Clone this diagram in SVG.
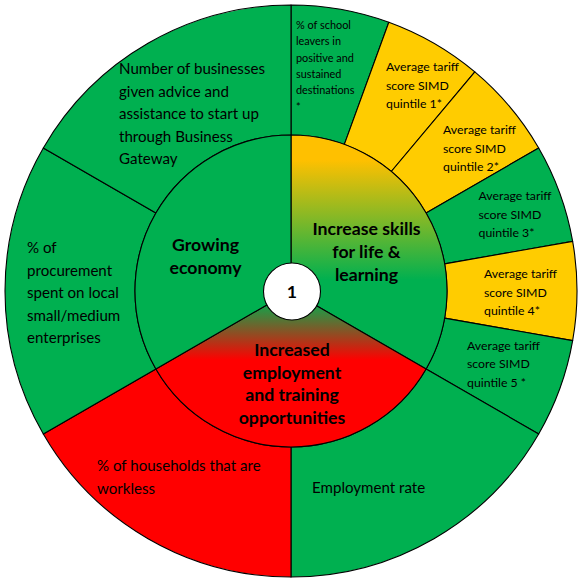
<svg xmlns="http://www.w3.org/2000/svg" width="580" height="582" viewBox="0 0 580 582">
<style>
.seg{stroke:#000;stroke-width:1.1;stroke-linejoin:round}
.g{fill:#00B050}
.y{fill:#FFCC00}
.r{fill:#FF0000}
text{font-family:Lato,"Open Sans","Liberation Sans",sans-serif;fill:#000}
.t16{font-size:15.1px}
.t13{font-size:12.3px}
.t12{font-size:10.9px}
.b{font-size:17.7px;font-weight:bold;text-anchor:middle}
</style>
<defs>
<linearGradient id="gSkills" gradientUnits="userSpaceOnUse" x1="0" y1="160" x2="0" y2="280">
<stop offset="0" stop-color="#FFC000"/>
<stop offset="1" stop-color="#00B050"/>
</linearGradient>
<linearGradient id="gEmp" gradientUnits="userSpaceOnUse" x1="0" y1="300" x2="0" y2="360">
<stop offset="0" stop-color="#00B050"/>
<stop offset="1" stop-color="#FF0000"/>
</linearGradient>
</defs>

<g id="seg-school-leavers">
<path class="seg g" d="M291,5 A286,286 0 0 1 388.82,22.25 L344.36,144.41 A156,156 0 0 0 291,135 Z"/>
<text class="t12"><tspan x="296" y="29">% of school</tspan><tspan x="296" y="45.3">leavers in</tspan><tspan x="296" y="61.6">positive and</tspan><tspan x="296" y="77.9">sustained</tspan><tspan x="296" y="94.2">destinations</tspan><tspan x="296" y="110.5">*</tspan></text>
</g>
<g id="seg-q1">
<path class="seg y" d="M388.82,22.25 A286,286 0 0 1 474.84,71.91 L391.28,171.5 A156,156 0 0 0 344.36,144.41 Z"/>
<text class="t13"><tspan x="386" y="71">Average tariff</tspan><tspan x="386" y="89.5">score SIMD</tspan><tspan x="386" y="108">quintile 1*</tspan></text>
</g>
<g id="seg-q2">
<path class="seg y" d="M474.84,71.91 A286,286 0 0 1 538.68,148 L426.1,213 A156,156 0 0 0 391.28,171.5 Z"/>
<text class="t13"><tspan x="443" y="134">Average tariff</tspan><tspan x="443" y="152.5">score SIMD</tspan><tspan x="443" y="171">quintile 2*</tspan></text>
</g>
<g id="seg-q3">
<path class="seg g" d="M538.68,148 A286,286 0 0 1 572.66,241.34 L444.63,263.91 A156,156 0 0 0 426.1,213 Z"/>
<text class="t13"><tspan x="478.5" y="200">Average tariff</tspan><tspan x="478.5" y="218.5">score SIMD</tspan><tspan x="478.5" y="237">quintile 3*</tspan></text>
</g>
<g id="seg-q4">
<path class="seg y" d="M572.66,241.34 A286,286 0 0 1 572.66,340.66 L444.63,318.09 A156,156 0 0 0 444.63,263.91 Z"/>
<text class="t13"><tspan x="484" y="278">Average tariff</tspan><tspan x="484" y="296.5">score SIMD</tspan><tspan x="484" y="315">quintile 4*</tspan></text>
</g>
<g id="seg-q5">
<path class="seg g" d="M572.66,340.66 A286,286 0 0 1 538.68,434 L426.1,369 A156,156 0 0 0 444.63,318.09 Z"/>
<text class="t13"><tspan x="467" y="349.5">Average tariff</tspan><tspan x="467" y="368">score SIMD</tspan><tspan x="467" y="386.5">quintile 5 *</tspan></text>
</g>
<g id="seg-employment-rate">
<path class="seg g" d="M538.68,434 A286,286 0 0 1 291,577 L291,447 A156,156 0 0 0 426.1,369 Z"/>
<text class="t16" x="312" y="493">Employment rate</text>
</g>
<g id="seg-workless">
<path class="seg r" d="M291,577 A286,286 0 0 1 43.32,434 L155.9,369 A156,156 0 0 0 291,447 Z"/>
<text class="t16"><tspan x="97" y="471">% of households that are</tspan><tspan x="97" y="493.5">workless</tspan></text>
</g>
<g id="seg-procurement">
<path class="seg g" d="M43.32,434 A286,286 0 0 1 43.32,148 L155.9,213 A156,156 0 0 0 155.9,369 Z"/>
<text class="t16"><tspan x="27" y="253">% of</tspan><tspan x="27" y="275.5">procurement</tspan><tspan x="27" y="298">spent on local</tspan><tspan x="27" y="320.5">small/medium</tspan><tspan x="27" y="343">enterprises</tspan></text>
</g>
<g id="seg-businesses">
<path class="seg g" d="M43.32,148 A286,286 0 0 1 291,5 L291,135 A156,156 0 0 0 155.9,213 Z"/>
<text class="t16"><tspan x="119" y="74.3">Number of businesses</tspan><tspan x="119" y="96.8">given advice and</tspan><tspan x="119" y="119.3">assistance to start up</tspan><tspan x="119" y="141.8">through Business</tspan><tspan x="119" y="164.3">Gateway</tspan></text>
</g>

<g id="node-skills">
<path class="seg" fill="url(#gSkills)" d="M291,291 L291,135 A156,156 0 0 1 426.1,369 Z"/>
<text class="b"><tspan x="366.5" y="235">Increase skills</tspan><tspan x="366.5" y="258">for life &amp;</tspan><tspan x="366.5" y="281">learning</tspan></text>
</g>
<g id="node-employment">
<path class="seg" fill="url(#gEmp)" d="M291,291 L426.1,369 A156,156 0 0 1 155.9,369 Z"/>
<text class="b"><tspan x="292" y="356">Increased</tspan><tspan x="292" y="378.7">employment</tspan><tspan x="292" y="401.3">and training</tspan><tspan x="292" y="424">opportunities</tspan></text>
</g>
<g id="node-economy">
<path class="seg g" d="M291,291 L155.9,369 A156,156 0 0 1 291,135 Z"/>
<text class="b"><tspan x="205.5" y="251">Growing</tspan><tspan x="205.5" y="273.5">economy</tspan></text>
</g>
<g id="node-center">
<circle class="seg" fill="#FFFFFF" cx="292" cy="291.5" r="28.5"/>
<text class="b" x="292" y="297.5">1</text>
</g>
</svg>
